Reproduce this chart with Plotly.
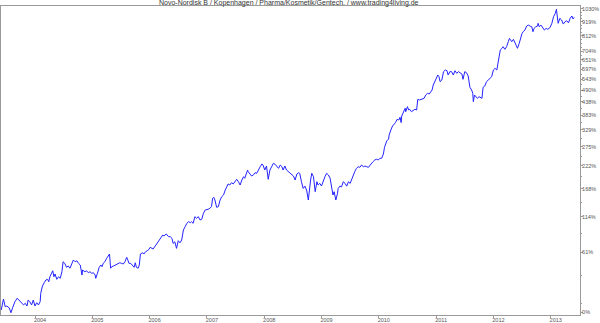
import plotly.graph_objects as go

title_text = "Novo-Nordisk B / Kopenhagen / Pharma/Kosmetik/Gentech. / www.trading4living.de"

years = [
    2003.41, 2003.45, 2003.48, 2003.51, 2003.55, 2003.58, 2003.61, 2003.65, 2003.69, 2003.73,
    2003.77, 2003.80, 2003.83, 2003.86, 2003.88, 2003.91, 2003.94, 2003.97, 2004.00, 2004.03,
    2004.06, 2004.09, 2004.10, 2004.13, 2004.16, 2004.19, 2004.22, 2004.24, 2004.26, 2004.29,
    2004.31, 2004.33, 2004.35, 2004.38, 2004.41, 2004.44, 2004.47, 2004.49, 2004.52, 2004.55,
    2004.58, 2004.61, 2004.64, 2004.67, 2004.70, 2004.73, 2004.76, 2004.79, 2004.82, 2004.83,
    2004.87, 2004.90, 2004.93, 2004.96, 2004.99, 2005.02, 2005.05, 2005.06, 2005.09, 2005.12,
    2005.15, 2005.17, 2005.19, 2005.22, 2005.25, 2005.28, 2005.30, 2005.32, 2005.34, 2005.37,
    2005.40, 2005.43, 2005.45, 2005.48, 2005.51, 2005.54, 2005.57, 2005.60, 2005.62, 2005.64,
    2005.67, 2005.70, 2005.73, 2005.75, 2005.77, 2005.80, 2005.82, 2005.84, 2005.88, 2005.90,
    2005.93, 2005.96, 2005.99,
    2006.01, 2006.06, 2006.11, 2006.15, 2006.19, 2006.23, 2006.25, 2006.29, 2006.33, 2006.36,
    2006.39, 2006.41, 2006.44, 2006.47, 2006.50, 2006.53, 2006.56, 2006.59, 2006.62, 2006.65,
    2006.68, 2006.71, 2006.73, 2006.76, 2006.79, 2006.82, 2006.85, 2006.88, 2006.91, 2006.94,
    2006.97, 2007.00, 2007.02, 2007.05, 2007.08, 2007.10, 2007.12, 2007.14, 2007.17, 2007.20,
    2007.23, 2007.26, 2007.29, 2007.32, 2007.35, 2007.37, 2007.40, 2007.43, 2007.46, 2007.49,
    2007.52, 2007.55, 2007.58, 2007.61, 2007.64, 2007.66, 2007.69, 2007.71, 2007.72, 2007.75,
    2007.78, 2007.81, 2007.84, 2007.87, 2007.90, 2007.93, 2007.96, 2007.98, 2008.01, 2008.04,
    2008.07, 2008.10, 2008.13, 2008.16, 2008.19, 2008.22, 2008.25, 2008.28, 2008.31, 2008.33,
    2008.36, 2008.39, 2008.42, 2008.45, 2008.48, 2008.51, 2008.54, 2008.57, 2008.60, 2008.62,
    2008.65, 2008.68, 2008.71, 2008.74, 2008.77, 2008.79, 2008.81, 2008.83, 2008.86, 2008.89,
    2008.92, 2008.94, 2008.97, 2009.00, 2009.03, 2009.06, 2009.09, 2009.12, 2009.15, 2009.18,
    2009.20, 2009.22, 2009.24, 2009.25, 2009.28, 2009.29, 2009.32, 2009.35, 2009.38, 2009.41,
    2009.44, 2009.47, 2009.50, 2009.53, 2009.56, 2009.58, 2009.61, 2009.64, 2009.67, 2009.70,
    2009.73, 2009.76, 2009.79, 2009.82, 2009.85, 2009.88, 2009.90, 2009.93, 2009.96, 2009.99,
    2010.02, 2010.05, 2010.08, 2010.10, 2010.12, 2010.14, 2010.17, 2010.18, 2010.21, 2010.24,
    2010.27, 2010.29, 2010.32, 2010.35, 2010.37, 2010.39, 2010.40, 2010.43, 2010.46, 2010.47,
    2010.50, 2010.52, 2010.54, 2010.57, 2010.60, 2010.63, 2010.66, 2010.68, 2010.71, 2010.74,
    2010.77, 2010.79, 2010.82, 2010.85, 2010.88, 2010.91, 2010.93, 2010.95, 2010.98, 2011.01,
    2011.03, 2011.05,
    2011.07, 2011.10, 2011.13, 2011.16, 2011.19, 2011.21, 2011.24, 2011.27, 2011.30, 2011.33,
    2011.36, 2011.39, 2011.42, 2011.45, 2011.47, 2011.50, 2011.53, 2011.56, 2011.59, 2011.62,
    2011.64, 2011.65, 2011.67, 2011.70, 2011.72, 2011.75, 2011.80, 2011.82, 2011.85, 2011.88,
    2011.91, 2011.94, 2011.97, 2012.00, 2012.03, 2012.06, 2012.09, 2012.12, 2012.15, 2012.17,
    2012.20, 2012.23, 2012.26, 2012.28, 2012.30, 2012.32, 2012.35, 2012.38, 2012.41, 2012.42,
    2012.45, 2012.48, 2012.50, 2012.52, 2012.55, 2012.58, 2012.61, 2012.64, 2012.67, 2012.69,
    2012.71, 2012.74, 2012.77, 2012.78, 2012.80, 2012.83, 2012.86, 2012.89, 2012.92, 2012.95,
    2012.99, 2013.02, 2013.05, 2013.08, 2013.10, 2013.13, 2013.16, 2013.19, 2013.22, 2013.25,
    2013.28, 2013.31, 2013.34, 2013.37, 2013.39, 2013.41,
]

pct = [
    1.6, 10.9, 4.3, 4.9, 3.3, -0.6, 3.5, 8.6, 11.6, 9.4,
    7.2, 5.8, 7.2, 4.9, 10.0, 8.6, 5.8, 10.0, 4.9, 7.7,
    5.8, 8.6, 16.1, 23.1, 26.4, 29.2, 29.9, 27.4, 32.6, 36.3,
    39.1, 32.6, 35.5, 29.9, 32.6, 30.9, 38.0, 49.5, 47.6, 43.0,
    44.5, 41.9, 47.6, 51.6, 49.5, 50.7, 47.6, 45.6, 34.4, 39.9,
    38.0, 39.1, 36.9, 38.0, 36.3, 36.9, 34.4, 30.9, 36.3, 43.0,
    45.6, 43.7, 47.6, 49.5, 53.6, 56.5, 59.0, 41.9, 43.7, 44.5,
    45.6, 46.4, 47.6, 48.3, 47.6, 46.8, 49.5, 54.9, 51.6, 47.6,
    47.6, 45.6, 43.0, 48.3, 43.0, 41.9, 45.6, 59.0, 60.7, 59.0,
    62.0, 63.3, 65.1,
    67.8, 65.5, 70.9, 75.4, 80.3, 85.2, 83.7, 86.7, 82.7, 82.7,
    80.3, 73.1, 75.4, 66.4, 76.9, 74.0, 77.9, 92.7, 97.9, 103.3,
    106.0, 104.3, 106.0, 103.3, 114.4, 111.7, 114.4, 108.8, 110.0, 120.3,
    126.1, 126.1, 127.4, 129.2, 132.2, 148.4, 150.4, 145.0, 131.1, 132.2,
    145.0, 151.6, 155.0, 165.4, 176.2, 178.5, 176.2, 181.4, 178.5, 183.6,
    189.1, 183.6, 176.2, 187.5, 195.2, 191.5, 201.6, 211.4, 207.3, 201.6,
    196.8, 199.2, 204.8, 203.3, 213.2, 219.7, 226.8, 224.1, 211.4, 221.5,
    189.1, 211.4, 219.7, 228.6, 226.0, 219.7, 215.6, 224.1, 219.7, 211.4,
    221.5, 211.4, 207.3, 203.3, 201.6, 196.8, 187.5, 201.6, 204.8, 203.3,
    183.6, 168.8, 173.7, 165.4, 145.0, 168.8, 187.5, 203.3, 195.2, 161.8,
    183.6, 176.2, 179.8, 174.0, 187.5, 195.2, 203.3, 199.2, 191.5, 172.5,
    155.0, 161.8, 151.6, 145.0, 158.6, 168.8, 173.7, 172.2, 183.6, 179.8,
    173.7, 183.6, 179.8, 191.5, 199.2, 207.3, 215.6, 219.7, 218.2, 224.1,
    219.7, 221.5, 219.7, 218.2, 224.1, 230.3, 233.0, 237.4, 239.3, 237.4,
    242.1, 242.1, 253.9, 273.5, 285.6, 293.7, 298.1, 312.1, 328.9, 342.9,
    350.0, 355.0, 367.2, 364.6, 375.0, 355.0, 379.6, 396.5, 410.3, 396.5,
    417.0, 403.3, 406.2, 396.5, 403.3, 406.2, 403.3, 448.1, 445.2, 448.1,
    448.1, 452.6, 467.5, 475.2, 472.0, 482.7, 490.6, 514.7, 536.2, 548.6,
    565.9, 557.0,
    531.3, 539.8, 584.0, 593.1, 589.3, 565.9, 584.0, 584.0, 565.9, 589.3,
    575.0, 584.0, 575.0, 571.3, 543.4, 584.0, 578.5, 560.6, 503.6, 490.6,
    475.2, 437.9, 467.5, 459.9, 452.6, 459.9, 452.6, 503.6, 509.9, 531.3,
    539.8, 548.6, 557.0, 593.1, 602.5, 593.1, 640.7, 713.3, 724.5, 735.3,
    717.9, 735.3, 769.1, 793.0, 781.0, 769.1, 786.0, 757.5, 735.3, 724.5,
    757.5, 805.0, 829.5, 841.7, 854.0, 885.0, 893.0, 885.0, 879.5, 841.7,
    867.0, 879.5, 885.0, 907.0, 879.5, 893.0, 875.0, 854.0, 867.0, 859.5,
    875.0, 907.0, 962.0, 990.5, 1026.0, 907.0, 948.0, 934.0, 901.0, 920.0,
    928.0, 911.0, 948.0, 967.5, 942.5, 956.0,
]

year_ticks = [2004, 2005, 2006, 2007, 2008, 2009, 2010, 2011, 2012, 2013]
pct_ticks = [0, 61, 114, 168, 222, 275, 329, 383, 438, 490, 543, 597, 651, 704, 812, 919, 1030]
pct_minor = [7, 34, 88, 141, 195, 248, 302, 356, 410, 463, 517, 570, 624, 677, 731, 758, 785,
             838, 865, 892, 945, 972, 1000]

yvals = [1 + p / 100 for p in pct]

fig = go.Figure(
    go.Scatter(
        x=years, y=yvals, mode="lines",
        line=dict(color="rgb(35,35,255)", width=1.0),
        hoverinfo="skip",
    )
)

axis_col = "#9a9a9a"
txt_col = "#555555"
fam = "Liberation Sans, Arial, sans-serif"

fig.update_layout(
    width=600, height=323,
    margin=dict(l=1, r=20, t=6, b=8, autoexpand=False),
    paper_bgcolor="white", plot_bgcolor="white",
    showlegend=False,
    title=dict(
        text=title_text, x=0.497, xanchor="center", xref="paper",
        y=1, yanchor="top", yref="container", automargin=False,
        pad=dict(t=0, b=0, l=0, r=0),
        font=dict(size=7, family=fam, color="#333333"),
    ),
)

fig.update_xaxes(
    range=[2003.4066, 2013.5113], automargin=False,
    tickvals=year_ticks, ticktext=[str(v) for v in year_ticks],
    ticks="outside", ticklen=2, tickcolor=axis_col, tickwidth=1,
    showline=True, linecolor=axis_col, linewidth=1, mirror=True,
    showgrid=False, zeroline=False,
    tickfont=dict(size=5.5, family=fam, color=txt_col),
    ticklabelshift=5, ticklabelstandoff=-3,
)

fig.update_yaxes(
    type="log", side="right", automargin=False,
    range=[-0.01042, 1.0632],
    tickvals=[1 + p / 100 for p in pct_ticks],
    ticktext=[f"{p}%" for p in pct_ticks],
    ticks="outside", ticklen=2, tickcolor=axis_col, tickwidth=1,
    minor=dict(tickvals=[1 + p / 100 for p in pct_minor], ticks="outside",
               ticklen=1, tickcolor=axis_col, showgrid=False),
    showline=True, linecolor=axis_col, linewidth=1, mirror=True,
    showgrid=False, zeroline=False,
    tickfont=dict(size=5.5, family=fam, color=txt_col),
    ticklabelstandoff=-2,
)

fig.write_html("out.html")
